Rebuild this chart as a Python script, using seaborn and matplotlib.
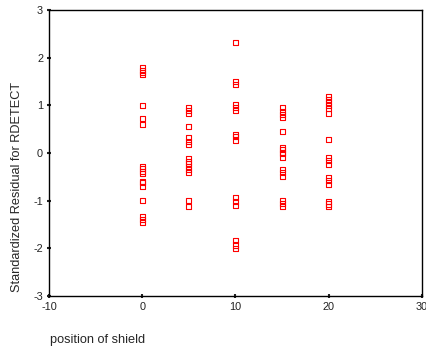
import matplotlib
matplotlib.use("Agg")
import matplotlib.pyplot as plt
import seaborn as sns
import pandas as pd

pos0 = [1.79, 1.74, 1.69, 1.65, 0.99, 0.73, 0.60, -0.28, -0.32, -0.38, -0.43,
        -0.59, -0.62, -0.71, -0.99, -1.34, -1.40, -1.46]
pos5 = [0.95, 0.90, 0.83, 0.56, 0.32, 0.25, 0.18, -0.12, -0.17, -0.22, -0.28,
        -0.35, -0.40, -1.00, -1.13]
pos10 = [2.32, 1.50, 1.43, 1.02, 0.96, 0.89, 0.39, 0.34, 0.27, -0.94, -1.01,
         -1.10, -1.84, -1.93, -2.00]
pos15 = [0.95, 0.88, 0.81, 0.74, 0.46, 0.12, 0.07, 0.02, -0.02, -0.09, -0.35,
         -0.40, -0.50, -0.99, -1.05, -1.12]
pos20 = [1.18, 1.13, 1.06, 1.00, 0.93, 0.83, 0.28, -0.10, -0.15, -0.24, -0.52,
         -0.57, -0.66, -1.01, -1.07, -1.13]
positions = [0, 5, 10, 15, 20]
xticks = [-10, 0, 10, 20, 30]
yticks = [-3, -2, -1, 0, 1, 2, 3]

rows = []
for p, vals in zip(positions, [pos0, pos5, pos10, pos15, pos20]):
    for v in vals:
        rows.append({"position": p, "resid": v})
df = pd.DataFrame(rows)

sns.set_style("white")
plt.rcParams['font.family'] = ['Liberation Sans', 'DejaVu Sans']

fig = plt.figure(figsize=(4.27, 3.52), dpi=100)
ax = fig.add_axes([49/427, 56/352, 373/427, 286/352])
sns.scatterplot(data=df, x="position", y="resid", ax=ax, marker="s", s=13,
                facecolor="none", edgecolor="#ff0000", linewidth=0.8, legend=False)
ax.set_xlim(-10, 30)
ax.set_ylim(-3, 3)
ax.set_xticks(xticks)
ax.set_yticks(yticks)
ax.set_xticklabels([str(t) for t in xticks], fontsize=7.8, color="#222222")
ax.set_yticklabels([str(t) for t in yticks], fontsize=7.8, color="#222222")
ax.tick_params(axis="both", direction="inout", length=2.5, width=1.5, pad=3,
               bottom=True, left=True, colors="#222222")
for sp in ax.spines.values():
    sp.set_color("black")
    sp.set_linewidth(1.0)
ax.set_xlabel("")
ax.set_ylabel("")
fig.text(17/427, 1 - 187/352, "Standardized Residual for RDETECT", fontsize=9.2,
         rotation=90, ha="center", va="center")
fig.text(50/427, 1 - 340/352, "position of shield", fontsize=9.2, ha="left", va="center")
fig.savefig("out.png", dpi=100)
